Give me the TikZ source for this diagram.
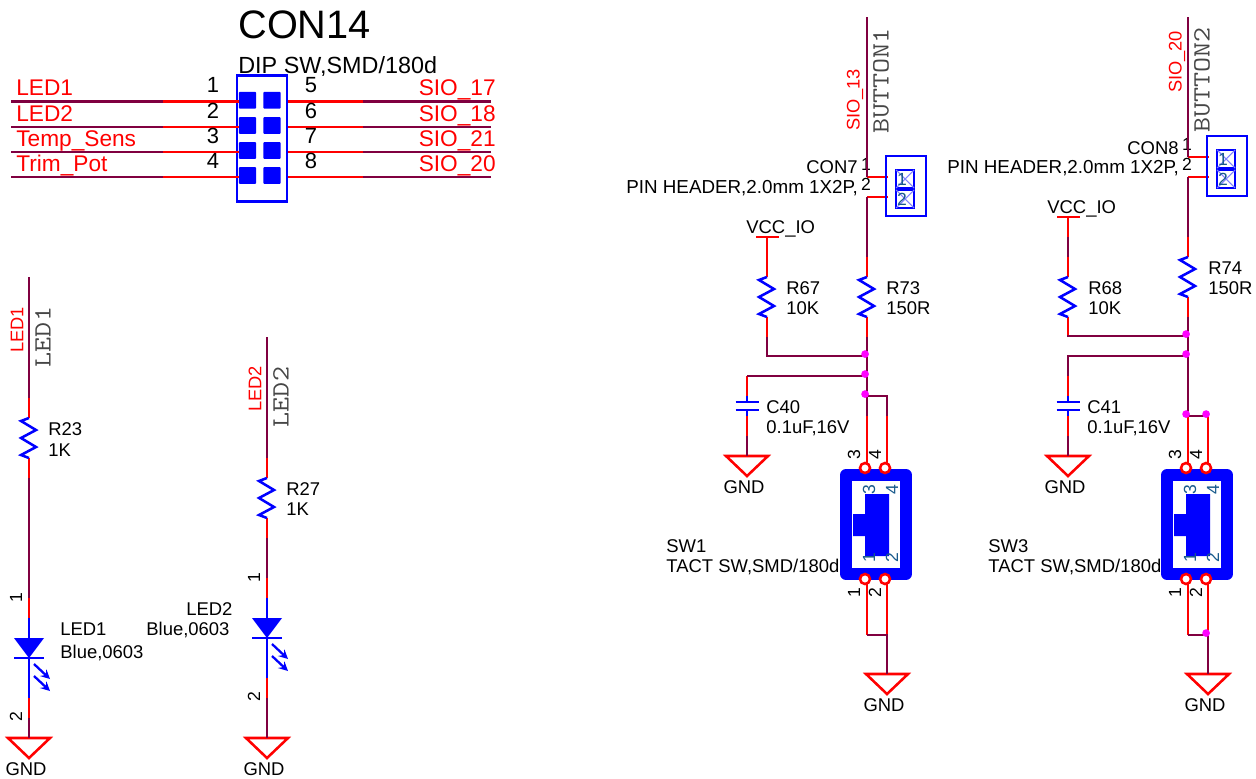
\documentclass[tikz,border=0pt]{standalone}
\usepackage{fontspec}
\setmainfont{Liberation Sans}
\usetikzlibrary{calc,positioning}
\definecolor{colorWire}{RGB}{128,0,64}
\definecolor{colorPin}{RGB}{255,0,0}
\definecolor{colorBody}{RGB}{0,0,255}
\definecolor{colorDot}{RGB}{255,0,255}
\definecolor{colorPad}{RGB}{24,90,140}
\definecolor{colorMono}{RGB}{70,70,70}
\tikzset{
   every path/.style={>=stealth},
   wire/.style={color=colorWire,line width=1.45pt},
   pin/.style={color=colorPin,line width=1.45pt},
   body/.style={color=colorBody,line width=1.45pt},
   junc/.style={circle,fill=colorDot,inner sep=0pt,minimum size=4.4pt,xshift=-1.1pt,yshift=1.1pt},
   lbl/.style={anchor=base west,inner sep=0pt,font=\fontsize{10.5}{12}\selectfont},
   num/.style={inner sep=0pt,font=\fontsize{10}{12}\selectfont},
   bignum/.style={anchor=base,inner sep=0pt,font=\fontsize{12.5}{14}\selectfont},
   netred/.style={anchor=base west,inner sep=0pt,colorPin,font=\fontsize{12.9}{14}\selectfont},
   netside/.style={rotate=90,inner sep=0pt,colorPin,font=\fontsize{10.4}{12}\selectfont},
   netmono/.style={rotate=90,inner sep=0pt,colorMono,font=\fontsize{16.6}{18}\ttfamily},
   pad/.style={rectangle,fill=colorBody,rounded corners=0.5pt,inner sep=0pt,minimum width=9.8pt,minimum height=9.6pt},
   gndsym/.pic={
      \coordinate (-top) at (0,0);
      \draw[pin,line join=miter] (-21,0) -- (21,0) -- (0,20) -- cycle;
      \node[lbl,anchor=base] (-txt) at (-3,37) {GND};
   },
   ressym/.pic={
      \coordinate (-a) at (0,0);
      \coordinate (-b) at (0,80);
      \draw[pin] (-a) -- (0,20);
      \draw[pin] (0,60) -- (-b);
      \draw[body] (0,20) -- (-8,23) -- (7,32) -- (-8,40) -- (7,49) -- (-8,57) -- (0,60);
   },
   capsym/.pic={
      \coordinate (-a) at (0,0);
      \coordinate (-b) at (0,60);
      \draw[pin] (-a) -- (0,20);
      \draw[pin] (0,40) -- (-b);
      \draw[body] (0,20) -- (0,26) (-11.5,26) -- (11.5,26);
      \draw[body] (-11.5,34) -- (11.5,34) (0,34) -- (0,40);
   },
   ledsym/.pic={
      \coordinate (-a) at (0,0);
      \coordinate (-b) at (0,120);
      \draw[pin] (-a) -- (0,20);
      \draw[pin] (0,100) -- (-b);
      \draw[body] (0,20) -- (0,100) (-15,60) -- (15,60);
      \fill[colorBody] (-15,40) -- (15,40) -- (0,60) -- cycle;
      \draw[body,->,line width=1.3pt] (5,66) -- (21,81);
      \draw[body,->,line width=1.3pt] (5,78) -- (21,93);
      \node[num,rotate=90] (-one) at (-13,0) {1};
      \node[num,rotate=90] (-two) at (-13,119) {2};
   },
   hdrsym/.pic={
      \coordinate (-a) at (0,0);
      \coordinate (-b) at (0,20);
      \draw[pin] (-a) -- (21,0);
      \draw[pin] (-b) -- (21,20);
      \draw[body] (19,-21) rectangle (59,39);
      \foreach \k/\t in {0/1,20/2}{
         \draw[body] (29,-7+\k) rectangle (47,11+\k);
         \draw[colorBody!50,line width=0.6pt] (29,11+\k) -- (47,-7+\k) (29,-7+\k) -- (47,11+\k);
         \node[num,colorPad] (-in\t) at (35,2+\k) {\t};
         \node[num,anchor=base] (-out\t) at (-1,-7+\k) {\t};
      }
   },
   swsym/.pic={
      \coordinate (-t3) at (0,0);
      \coordinate (-t4) at (20,0);
      \coordinate (-b1) at (0,219);
      \coordinate (-b2) at (20,219);
      \draw[color=colorBody,line width=6.8pt,line join=round] (-21,59) rectangle (39,158);
      \fill[colorBody] (-2,78) -- (22,78) -- (22,140) -- (-2,140) -- (-2,120) -- (-14,120) -- (-14,98) -- (-2,98) -- cycle;
      \draw[pin] (-t3) -- (0,50) (-t4) -- (20,50);
      \draw[pin] (-b1) -- (0,167) (-b2) -- (20,167);
      \foreach \x in {-2,18} \foreach \y in {52,163}
         \draw[pin,fill=white] (\x,\y) circle (5);
      \foreach \x/\y/\t in {2/74/3,25/74/4,2/142/1,25/142/2}
         \node[num,rotate=90,colorPad] (-in\t) at (\x,\y) {\t};
      \foreach \x/\y/\t in {-13/39/3,8/39/4,-13/177/1,8/177/2}
         \node[num,rotate=90] (-out\t) at (\x,\y) {\t};
   },
}
\newcommand{\monotxt}[1]{\scalebox{1}[0.85]{#1}}

\begin{document}
\begin{tikzpicture}[x=0.02cm,y=-0.02cm]
    \useasboundingbox (0,0) rectangle (1256,778);

    % con14
    \node[lbl,anchor=base west,font=\fontsize{22.6}{24}\selectfont] (con14) at (238,38) {CON14};
    \node[lbl,font=\fontsize{13.3}{15}\selectfont] (con14val) at (238,73) {DIP SW,SMD/180d};
    \node[draw=colorBody,line width=1.45pt,inner sep=0pt,minimum width=28.3pt,minimum height=72pt] (con14box) at (262,138.5) {};
    \foreach \i/\y/\nl/\nr/\tl/\tr in {1/101.7/1/5/LED1/SIO\_17,2/127/2/6/LED2/SIO\_18,3/152/3/7/Temp\_Sens/SIO\_21,4/177/4/8/Trim\_Pot/SIO\_20}{
       \node[pad] (padl\i) at (247.5,\y-1.5) {};
       \node[pad] (padr\i) at (272,\y-1.5) {};
       \coordinate (netl\i) at (11,\y);
       \coordinate (netr\i) at (491,\y);
       \coordinate (pinl\i) at (163,\y);
       \coordinate (pinr\i) at (363,\y);
       \draw[wire] (netl\i) -- (pinl\i);
       \draw[wire] (netr\i) -- (pinr\i);
       \draw[pin] (pinl\i) -- (pinl\i -| padl\i.west);
       \draw[pin] (pinr\i) -- (pinr\i -| con14box.east);
       \node[netred] (labl\i) at (16,\y-6) {\tl};
       \node[netred,anchor=base east] (labr\i) at (496,\y-6) {\tr};
       \node[bignum] (numl\i) at (213,\y-9) {\nl};
       \node[bignum] (numr\i) at (311,\y-9) {\nr};
    }

    % led1
    \coordinate (led1top) at (29,277);
    \pic (r23) at (29,398) {ressym};
    \pic (led1) at (29,598) {ledsym};
    \pic (gnd1) at (29,738) {gndsym};
    \draw[wire] (led1top) -- (r23-a);
    \draw[wire] (r23-b) -- (led1-a);
    \draw[wire] (led1-b) -- (gnd1-top);
    \node[netside] (led1net) at (17,330) {LED1};
    \node[netmono] (led1mono) at (43,337) {\monotxt{LED1}};
    \node[lbl] (r23name) at (48,435) {R23};
    \node[lbl] (r23val) at (48,456) {1K};
    \node[lbl] (led1name) at (60,635) {LED1};
    \node[lbl] (led1val) at (60,658) {Blue,0603};

    % led2
    \coordinate (led2top) at (267,337);
    \pic (r27) at (267,458) {ressym};
    \pic (led2) at (267,578) {ledsym};
    \pic (gnd2) at (267,738) {gndsym};
    \draw[wire] (led2top) -- (r27-a);
    \draw[wire] (r27-b) -- (led2-a);
    \draw[wire] (led2-b) -- (gnd2-top);
    \node[netside] (led2net) at (255,389) {LED2};
    \node[netmono] (led2mono) at (281,397) {\monotxt{LED2}};
    \node[lbl] (r27name) at (286,495) {R27};
    \node[lbl] (r27val) at (286,515) {1K};
    \node[lbl] (led2name) at (186,615) {LED2};
    \node[lbl] (led2val) at (146,635) {Blue,0603};

    % button1
    \coordinate (btn1top) at (867,17);
    \coordinate (vcc1) at (767,237);
    \coordinate (vcc1l) at (756,237);
    \coordinate (vcc1r) at (779,237);
    \coordinate (j1) at (867,356);
    \coordinate (j2) at (867,376);
    \coordinate (j3) at (867,396);
    \pic (con7) at (867,177) {hdrsym};
    \pic (r67) at (767,257) {ressym};
    \pic (r73) at (867,257) {ressym};
    \pic (c40) at (747,376) {capsym};
    \pic (sw1) at (867,416) {swsym};
    \pic (gnd3) at (747,456) {gndsym};
    \pic (gnd4) at (887,674) {gndsym};
    \draw[wire] (btn1top) -- (con7-a);
    \draw[wire] (con7-b) -- (r73-a);
    \draw[wire] (r73-b) -- (sw1-t3);
    \draw[pin] (vcc1l) -- (vcc1r);
    \draw[pin] (vcc1) -- (r67-a);
    \draw[wire] (r67-b) |- (j1);
    \draw[wire] (c40-a) -- (j2);
    \draw[wire] (c40-b) -- (gnd3-top);
    \draw[wire] (sw1-t4) |- (j3);
    \draw[wire] (sw1-b1) -- (sw1-b2) -- (gnd4-top);
    \node[junc] (d1) at (j1) {};
    \node[junc] (d2) at (j2) {};
    \node[junc] (d3) at (j3) {};
    \node[netside] (btn1net) at (855,100) {SIO\_13};
    \node[netmono] (btn1mono) at (881,81) {\monotxt{BUTTON1}};
    \node[lbl] (con7name) at (806,173) {CON7};
    \node[lbl,font=\fontsize{10.7}{12}\selectfont] (con7val) at (626,193) {PIN HEADER,2.0mm 1X2P,};
    \node[lbl] (vcc1txt) at (746,233) {VCC\_IO};
    \node[lbl] (r67name) at (786,294) {R67};
    \node[lbl] (r67val) at (786,314) {10K};
    \node[lbl] (r73name) at (886,294) {R73};
    \node[lbl] (r73val) at (886,314) {150R};
    \node[lbl] (c40name) at (766,413) {C40};
    \node[lbl] (c40val) at (766,433) {0.1uF,16V};
    \node[lbl] (sw1name) at (666,552) {SW1};
    \node[lbl] (sw1val) at (666,572) {TACT SW,SMD/180d};

    % button2
    \coordinate (btn2top) at (1188,17);
    \coordinate (vcc2) at (1068,217);
    \coordinate (vcc2l) at (1057,217);
    \coordinate (vcc2r) at (1080,217);
    \coordinate (j4) at (1188,336);
    \coordinate (j5) at (1188,356);
    \coordinate (j6) at (1188,416);
    \coordinate (j7) at (1208,416);
    \coordinate (j8) at (1208,635);
    \pic (con8) at (1188,157) {hdrsym};
    \pic (r68) at (1068,257) {ressym};
    \pic (r74) at (1188,237) {ressym};
    \pic (c41) at (1068,376) {capsym};
    \pic (sw3) at (1188,416) {swsym};
    \pic (gnd5) at (1068,456) {gndsym};
    \pic (gnd6) at (1208,674) {gndsym};
    \draw[wire] (btn2top) -- (con8-a);
    \draw[wire] (con8-b) -- (r74-a);
    \draw[wire] (r74-b) -- (j6);
    \draw[pin] (vcc2l) -- (vcc2r);
    \draw[wire] (vcc2) -- (r68-a);
    \draw[pin] (vcc2) -- ($(vcc2)+(0,20)$);
    \draw[wire] (r68-b) |- (j4);
    \draw[wire] (c41-a) |- (j5);
    \draw[wire] (c41-b) -- (gnd5-top);
    \draw[wire] (j6) -- (j7) -- (sw3-t4);
    \draw[wire] (sw3-b1) -- (sw3-b2) -- (gnd6-top);
    \node[junc] (d4) at (j4) {};
    \node[junc] (d5) at (j5) {};
    \node[junc] (d6) at (j6) {};
    \node[junc] (d7) at (j7) {};
    \node[junc] (d8) at (j8) {};
    \node[netside] (btn2net) at (1177,62) {SIO\_20};
    \node[netmono] (btn2mono) at (1202,80) {\monotxt{BUTTON2}};
    \node[lbl] (con8name) at (1127,154) {CON8};
    \node[lbl,font=\fontsize{10.7}{12}\selectfont] (con8val) at (947,173) {PIN HEADER,2.0mm 1X2P,};
    \node[lbl] (vcc2txt) at (1047,213) {VCC\_IO};
    \node[lbl] (r68name) at (1088,294) {R68};
    \node[lbl] (r68val) at (1088,314) {10K};
    \node[lbl] (r74name) at (1208,274) {R74};
    \node[lbl] (r74val) at (1208,294) {150R};
    \node[lbl] (c41name) at (1087,413) {C41};
    \node[lbl] (c41val) at (1087,433) {0.1uF,16V};
    \node[lbl] (sw3name) at (988,552) {SW3};
    \node[lbl] (sw3val) at (988,572) {TACT SW,SMD/180d};
\end{tikzpicture}
\end{document}
